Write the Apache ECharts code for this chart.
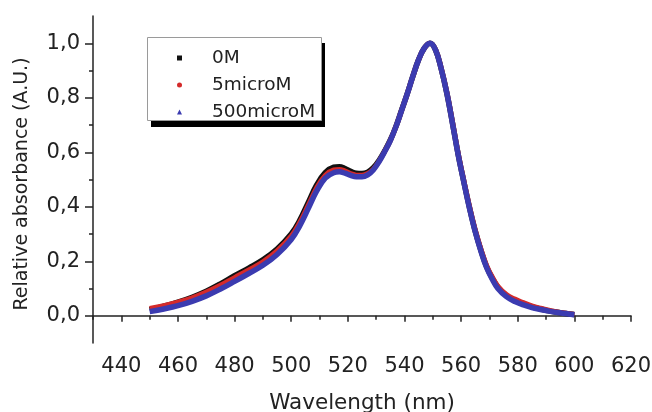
<!DOCTYPE html>
<html>
<head>
<meta charset="utf-8">
<script src="https://cdn.jsdelivr.net/npm/echarts@6/dist/echarts.min.js"></script>
<style>html,body{margin:0;padding:0;background:#fff}#c{width:652px;height:412px}</style>
</head>
<body>
<div id="c"></div>
<script>
var wavelengths = [450,455,460,465,470,475,480,485,490,495,500,503,506,509,512,515,517,519,521,523,525,527,529,531,533,535,537,539,541,543,545,547,549,551,553,555,557,559,561,563,565,567,569,571,573,576,579,582,585,588,591,594,597,600];
var abs0M = [0.022,0.035,0.05,0.068,0.09,0.117,0.147,0.175,0.205,0.245,0.30,0.35,0.415,0.48,0.525,0.545,0.547,0.54,0.53,0.523,0.522,0.527,0.543,0.57,0.605,0.645,0.695,0.755,0.815,0.88,0.94,0.982,1.0,0.975,0.905,0.815,0.705,0.59,0.49,0.395,0.31,0.24,0.18,0.138,0.105,0.074,0.056,0.043,0.033,0.025,0.018,0.013,0.008,0.005];
var abs5uM = [0.027,0.037,0.05,0.066,0.087,0.112,0.14,0.168,0.198,0.238,0.292,0.342,0.405,0.47,0.515,0.535,0.537,0.531,0.522,0.516,0.516,0.522,0.538,0.567,0.603,0.643,0.694,0.754,0.815,0.88,0.94,0.982,1.0,0.976,0.907,0.818,0.708,0.594,0.494,0.4,0.315,0.245,0.185,0.142,0.108,0.078,0.061,0.048,0.036,0.028,0.02,0.014,0.009,0.005];
var abs500uM = [0.015,0.025,0.037,0.053,0.073,0.098,0.126,0.155,0.185,0.225,0.28,0.33,0.393,0.458,0.505,0.525,0.528,0.523,0.515,0.51,0.51,0.517,0.535,0.565,0.602,0.643,0.694,0.754,0.815,0.88,0.94,0.982,1.0,0.975,0.905,0.815,0.704,0.589,0.489,0.393,0.308,0.237,0.177,0.134,0.1,0.07,0.052,0.04,0.03,0.023,0.017,0.012,0.008,0.004];
var seriesNames = ['0M','5microM','500microM'];
var xMajorTicks = [440,460,480,500,520,540,560,580,600,620];
var xMinorTicks = [430,450,470,490,510,530,550,570,590,610];
var yMajorTicks = [0.0,0.2,0.4,0.6,0.8,1.0];
var yMinorTicks = [0.1,0.3,0.5,0.7,0.9];

function pairs(xs, ys){ return xs.map(function(x,i){ return [x, ys[i]]; }); }
var FONT = 'DejaVu Sans';
var axisLineStyle = {color:'#222', width:1.5};

var chart = echarts.init(document.getElementById('c'), null, {renderer:'canvas'});
chart.setOption({
  animation:false,
  backgroundColor:'#fff',
  grid:{left:93, right:21, top:16, bottom:69, containLabel:false, outerBoundsMode:'none'},
  graphic:[
    {type:'rect', z:1, silent:true, shape:{x:151, y:43, width:174, height:84}, style:{fill:'#000'}},
    {type:'rect', z:2, silent:true, shape:{x:147.5, y:37.5, width:174, height:83}, style:{fill:'#fff', stroke:'#9a9a9a', lineWidth:1}}
  ],
  legend:{
    orient:'vertical', left:147, top:37, z:10,
    padding:[11,6,2,30],
    itemWidth:5, itemHeight:5, itemGap:7,
    textStyle:{fontFamily:FONT, fontSize:18.5, color:'#222', lineHeight:20, padding:[0,0,0,25]},
    data:[{name:seriesNames[0], icon:'rect'},{name:seriesNames[1], icon:'circle'},{name:seriesNames[2], icon:'triangle'}]
  },
  xAxis:[{
    type:'value', min:430, max:620,
    name:'Wavelength (nm)', nameLocation:'middle', nameGap:49,
    nameTextStyle:{fontFamily:FONT, fontSize:21.5, color:'#222'},
    axisLine:{show:true, lineStyle:axisLineStyle},
    axisTick:{show:true, length:6, lineStyle:axisLineStyle, customValues:xMajorTicks},
    axisLabel:{fontFamily:FONT, fontSize:21, color:'#222', margin:13, customValues:xMajorTicks},
    splitLine:{show:false}
  },{
    type:'value', min:430, max:620, position:'bottom',
    axisLine:{show:false}, axisLabel:{show:false},
    axisTick:{show:true, length:4, lineStyle:axisLineStyle, customValues:xMinorTicks},
    splitLine:{show:false}
  }],
  yAxis:[{
    type:'value', min:-0.1, max:1.1,
    name:'Relative absorbance (A.U.)', nameLocation:'middle', nameGap:61,
    nameTextStyle:{fontFamily:FONT, fontSize:19, color:'#222', padding:[0,9,0,0]},
    axisLine:{show:true, lineStyle:axisLineStyle},
    axisTick:{show:true, length:8, lineStyle:axisLineStyle, customValues:yMajorTicks},
    axisLabel:{fontFamily:FONT, fontSize:21, color:'#222', margin:13, customValues:yMajorTicks,
      formatter:function(v){ return v.toFixed(1).replace('.', ','); }},
    splitLine:{show:false}
  },{
    type:'value', min:-0.1, max:1.1, position:'left',
    axisLine:{show:false}, axisLabel:{show:false},
    axisTick:{show:true, length:4, lineStyle:axisLineStyle, customValues:yMinorTicks},
    splitLine:{show:false}
  }],
  series:[
    {name:seriesNames[0], type:'line', smooth:0.4, showSymbol:false, color:'#111',
     lineStyle:{width:5.5, color:'#111'}, data:pairs(wavelengths, abs0M)},
    {name:seriesNames[1], type:'line', smooth:0.4, showSymbol:false, color:'#d42a2a',
     lineStyle:{width:5, color:'#d42a2a'}, data:pairs(wavelengths, abs5uM)},
    {name:seriesNames[2], type:'line', smooth:0.4, showSymbol:false, color:'#3b3bb0',
     lineStyle:{width:5.5, color:'#3b3bb0'}, data:pairs(wavelengths, abs500uM)}
  ]
});
</script>
</body>
</html>
